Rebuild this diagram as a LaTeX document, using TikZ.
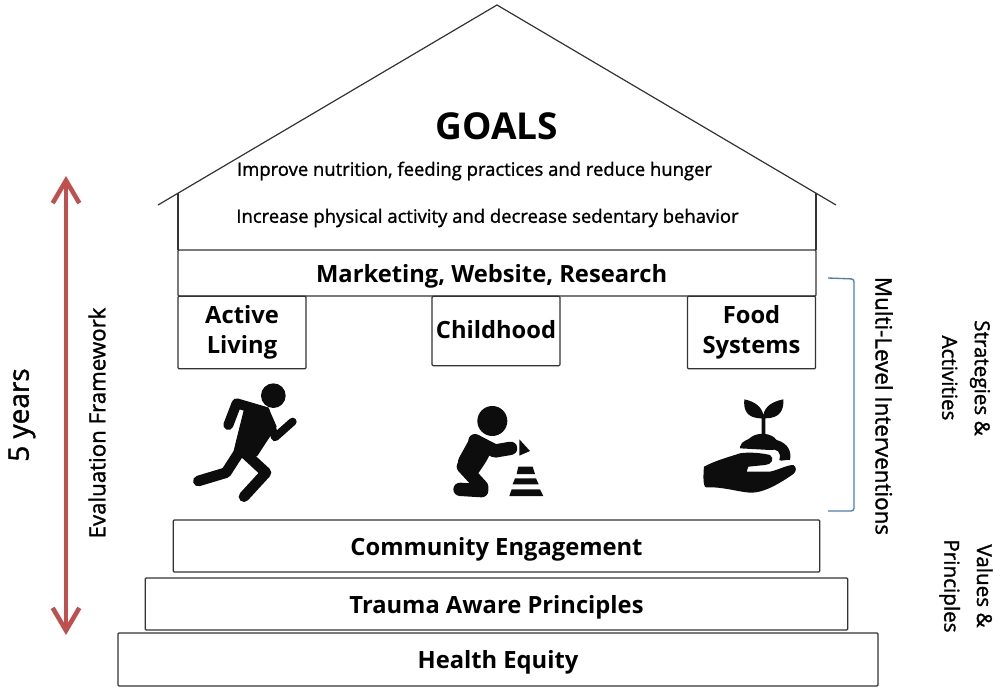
\documentclass[tikz,border=0pt]{standalone}
\usepackage{fontspec}
\setmainfont{Open Sans}
\newfontfamily\semifont[FakeBold=1.3]{Open Sans}
\usetikzlibrary{arrows.meta}
\definecolor{arrowred}{HTML}{C0504D}
\definecolor{bracketblue}{HTML}{4A7EBB}
\definecolor{boxline}{HTML}{333333}
\tikzset{
    tier/.style={draw=boxline, line width=0.9pt, fill=white, inner sep=0pt, rounded corners=0.8pt, font=\fontsize{17.8}{22.5}\selectfont\bfseries},
    band/.style={tier, text height=14pt, text depth=0pt},
    pillar/.style={tier, align=center, minimum width=96pt, minimum height=54.5pt},
    sidetext/.style={font=\fontsize{15.5}{24.5}\selectfont\semifont, align=center, inner sep=0pt},
    ink/.style={fill=black!95, draw=none},
    limb/.style={draw=black!95, line cap=round, line join=round}
}

\begin{document}
\begin{tikzpicture}[x=0.75pt, y=-0.75pt]
    \useasboundingbox (0,0) rectangle (1000,699);
    % house
    \coordinate (eaveL) at (158,205);
    \coordinate (apex) at (497,5);
    \coordinate (eaveR) at (836,205);
    \coordinate (wallL) at (178,193);
    \coordinate (wallR) at (816,193);
    \draw[boxline, line width=0.9pt] (eaveL) -- (apex) -- (eaveR);
    \draw[boxline, line width=0.9pt] (wallL) -- (178,250) (wallR) -- (816,250);
    \node (goals) at (497,126) {\fontsize{27.8}{30}\selectfont\bfseries GOALS};
    \node (goalA) at (474.5,171) {\fontsize{13.85}{16}\selectfont\semifont Improve nutrition, feeding practices and reduce hunger};
    \node (goalB) at (487.5,218) {\fontsize{13.85}{16}\selectfont\semifont Increase physical activity and decrease sedentary behavior};
    % tiers
    \node[band, minimum width=478.5pt, minimum height=34.5pt] (marketing) at (497,273) {\hspace*{-8pt}Marketing, Website, Research};
    \node[pillar] (active) at (242,332.5) {Active\\Living};
    \node[pillar, minimum height=52pt, text height=10.5pt, text depth=0pt] (childhood) at (496,331) {Childhood};
    \node[pillar] (food) at (751.5,332.5) {Food\\Systems};
    \node[band, minimum width=485pt, minimum height=39pt] (community) at (496.5,546) {Community Engagement};
    \node[band, minimum width=527pt, minimum height=39pt] (trauma) at (496.5,604) {Trauma Aware Principles};
    \node[band, minimum width=570pt, minimum height=39.75pt] (equity) at (498,659.5) {Health Equity};
    % left side
    \coordinate (spanTop) at (66,176);
    \coordinate (spanBot) at (66,635);
    \draw[arrowred, line width=3.4pt, {Straight Barb[length=17pt,width=20pt,line width=3.4pt]}-{Straight Barb[length=17pt,width=20pt,line width=3.4pt]}] (spanTop) -- (spanBot);
    \node[rotate=90, font=\fontsize{21}{24}\selectfont\semifont] (years) at (22,415) {5 years};
    \node[rotate=90, font=\fontsize{16.7}{18}\selectfont\semifont] (evaluation) at (97,423) {Evaluation Framework};
    % right side
    \coordinate (braceTop) at (828,278);
    \coordinate (braceBot) at (828,511);
    \draw[bracketblue, line width=1pt, rounded corners=2pt] (braceTop) -- (854,279) -- (854,511) -- (braceBot);
    \node[rotate=-90, font=\fontsize{16.8}{18}\selectfont\semifont] (multilevel) at (884,406) {Multi-Level Interventions};
    \node[rotate=-90, sidetext] (strategies) at (966,378) {Strategies \&\\Activities};
    \node[rotate=-90, sidetext] (values) at (966,586) {Values \&\\Principles};
    % runner
    \begin{scope}[shift={(170,370)}, scale=1/3]
        \fill[ink] (310,77) circle (37);
        \draw[limb, line width=7.5pt] (175,165) -- (200,100) -- (285,125);
        \fill[ink] (225,105) -- (295,112) -- (320,170) -- (290,215) -- (262,258) -- (215,262) -- (185,268) -- (200,205) -- cycle;
        \draw[limb, line width=6pt] (300,155) -- (315,202) -- (368,155);
        \draw[limb, line width=8pt] (85,333) -- (168,308) -- (215,235);
        \draw[limb, line width=8pt] (222,380) -- (288,308) -- (225,250);
    \end{scope}
    % child with cone
    \begin{scope}[shift={(170,370)}, scale=1/3]
        \fill[ink] (967,153) circle (45);
        \draw[limb, line width=10pt] (1022,235) -- (975,243) -- (915,212);
        \fill[ink, rounded corners=5pt] (905,195) -- (970,228) -- (955,265) -- (915,325) -- (870,305) -- (858,280) -- cycle;
        \draw[limb, line width=10pt] (880,290) -- (935,350) -- (935,362) -- (870,358);
        \fill[ink] (1048,208) -- (1080,243) -- (1048,257) -- cycle;
        \fill[ink] (1045,290) -- (1088,290) -- (1095,312) -- (1040,312) -- cycle;
        \fill[ink] (1035,325) -- (1098,325) -- (1106,343) -- (1028,343) -- cycle;
        \fill[ink] (1025,358) -- (1110,358) -- (1120,378) -- (1018,378) -- cycle;
    \end{scope}
    % hand with seedling
    \begin{scope}[shift={(680,270)}, scale=1/3]
        \fill[ink] (245,492) -- (245,445) .. controls (200,445) and (190,420) .. (193,388) .. controls (225,395) and (245,410) .. (250,435) .. controls (255,410) and (275,395) .. (310,388) .. controls (312,420) and (300,445) .. (256,445) -- (256,492) -- cycle;
        \fill[ink] (180,530) .. controls (185,510) and (205,512) .. (215,500) .. controls (240,485) and (275,490) .. (290,510) .. controls (325,520) and (335,545) .. (330,570) .. controls (315,568) and (305,575) .. (298,570) .. controls (305,545) and (290,535) .. (270,540) -- (180,535) -- cycle;
        \fill[ink] (72,590) .. controls (110,570) and (150,560) .. (180,550) .. controls (210,545) and (250,550) .. (270,555) .. controls (285,565) and (275,585) .. (255,585) -- (205,590) -- (200,605) -- (270,605) .. controls (295,600) and (320,585) .. (340,585) .. controls (350,590) and (350,605) .. (340,612) .. controls (300,640) and (250,670) .. (210,668) .. controls (170,665) and (130,650) .. (78,652) .. controls (68,650) and (70,610) .. (72,590) -- cycle;
    \end{scope}
\end{tikzpicture}
\end{document}
